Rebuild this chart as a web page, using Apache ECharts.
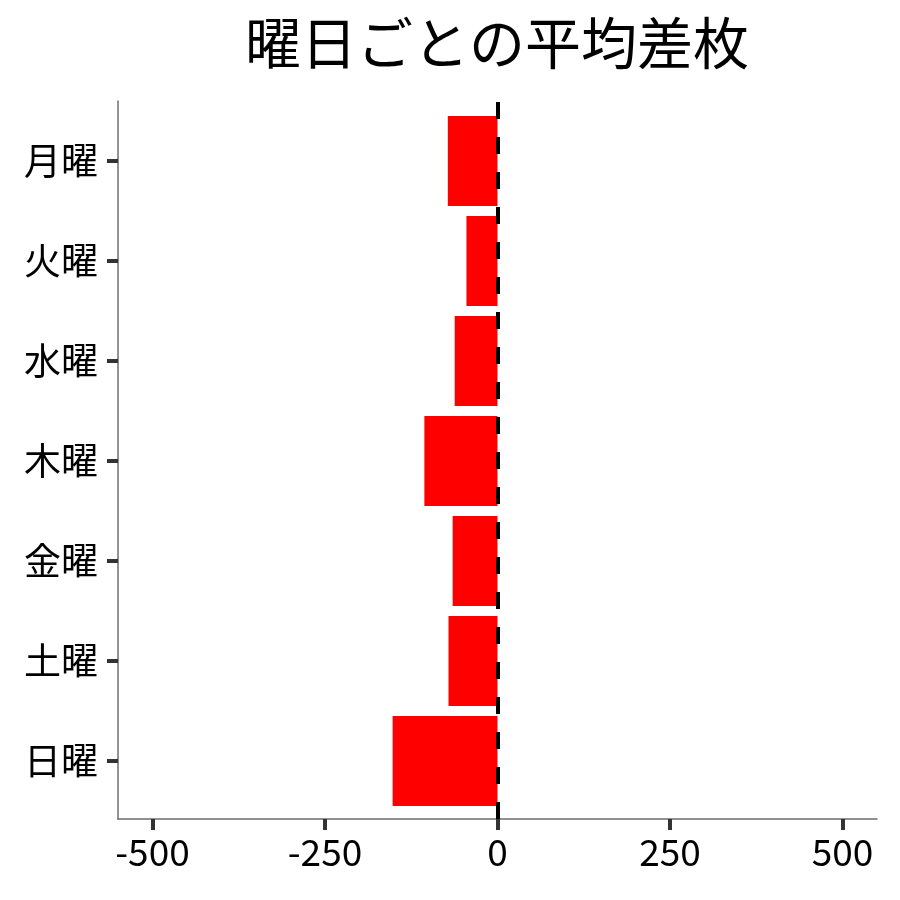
<!DOCTYPE html>
<html>
<head>
<meta charset="utf-8">
<script src="https://cdn.jsdelivr.net/npm/echarts@6/dist/echarts.min.js"></script>
<style>
  html, body { margin: 0; padding: 0; background: #fff; }
  #chart { width: 900px; height: 900px; }
</style>
</head>
<body>
<div id="chart"></div>
<script>
var days = ['月曜', '火曜', '水曜', '木曜', '金曜', '土曜', '日曜'];
var avgDiff = [-72, -45, -62, -106, -65, -71, -152];
var xTicks = [-500, -250, 0, 250, 500];
var xMin = -550, xMax = 550;

var font = '"Noto Sans CJK JP", "Noto Sans", sans-serif';

var chart = echarts.init(document.getElementById('chart'));
chart.setOption({
    animation: false,
    backgroundColor: '#fff',
    title: {
        text: '曜日ごとの平均差枚',
        left: 492,
        textAlign: 'center',
        top: 10,
        textStyle: { fontFamily: font, fontSize: 56, fontWeight: 'normal', color: '#000' }
    },
    grid: [
        { left: 118, right: 23, top: 111, bottom: 89 },
        { left: 118, right: 23, top: 101, bottom: 81 }
    ],
    xAxis: [{
        type: 'value',
        gridIndex: 0,
        min: xMin,
        max: xMax,
        offset: 8,
        axisLine: { show: true, onZero: false, lineStyle: { color: '#6e6e6e', width: 1.5 } },
        axisTick: { show: true, length: 11, customValues: xTicks, lineStyle: { color: '#333', width: 4 } },
        axisLabel: { customValues: xTicks, margin: 14, fontFamily: font, fontSize: 37, color: '#000' },
        splitLine: { show: false }
    }, {
        type: 'value',
        gridIndex: 1,
        min: xMin,
        max: xMax,
        show: false
    }],
    yAxis: [{
        type: 'category',
        gridIndex: 0,
        data: days,
        inverse: true,
        axisLine: { show: false, onZero: false },
        axisTick: { show: true, length: 11, alignWithLabel: true, lineStyle: { color: '#333', width: 4 } },
        axisLabel: { margin: 20, fontFamily: font, fontSize: 37, color: '#000' },
        splitLine: { show: false }
    }, {
        type: 'value',
        gridIndex: 1,
        min: 0,
        max: 1,
        axisLine: { show: true, onZero: false, lineStyle: { color: '#6e6e6e', width: 1.5 } },
        axisTick: { show: false },
        axisLabel: { show: false },
        splitLine: { show: false }
    }],
    series: [{
        type: 'bar',
        xAxisIndex: 0,
        yAxisIndex: 0,
        data: avgDiff,
        barWidth: 90,
        itemStyle: { color: '#ff0000' },
        silent: true
    }, {
        type: 'line',
        xAxisIndex: 1,
        yAxisIndex: 1,
        data: [],
        z: 10,
        markLine: {
            silent: true,
            symbol: 'none',
            label: { show: false },
            lineStyle: { color: '#000', width: 4, type: [17, 18] },
            data: [{ xAxis: 0 }]
        }
    }]
});
</script>
</body>
</html>
